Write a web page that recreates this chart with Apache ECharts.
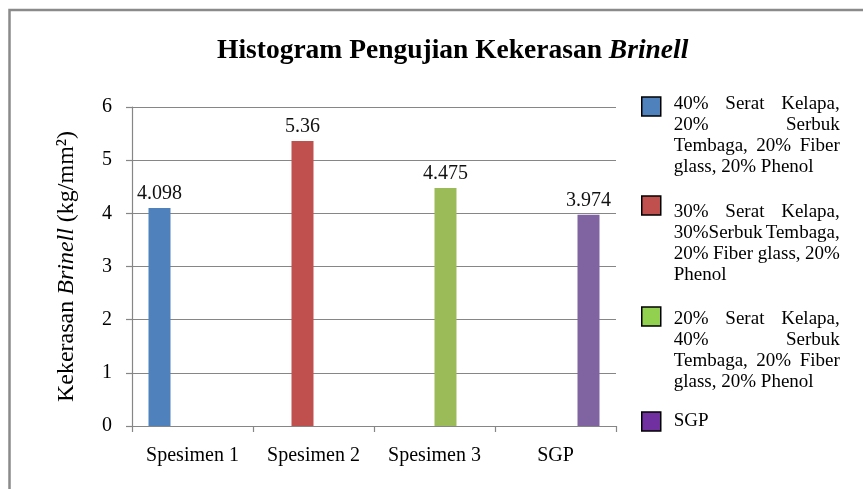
<!DOCTYPE html>
<html>
<head>
<meta charset="utf-8">
<title>Histogram Pengujian Kekerasan Brinell</title>
<script src="https://cdn.jsdelivr.net/npm/echarts@6/dist/echarts.min.js"></script>
<style>
    html, body { margin: 0; padding: 0; background: #fff; }
    #chart { width: 863px; height: 489px; }
</style>
</head>
<body>
<div id="chart"></div>
<script>
var categories = ['Spesimen 1', 'Spesimen 2', 'Spesimen 3', 'SGP'];
var hardness = [4.098, 5.36, 4.475, 3.974];
var yTicks = { min: 0, max: 6, step: 1 };

var seriesNames = [
    '40% Serat Kelapa, 20% Serbuk Tembaga, 20% Fiber glass, 20% Phenol',
    '30% Serat Kelapa, 30%Serbuk Tembaga, 20% Fiber glass, 20% Phenol',
    '20% Serat Kelapa, 40% Serbuk Tembaga, 20% Fiber glass, 20% Phenol',
    'SGP'
];
// legend text broken into lines the way the original wraps (justified)
var legendLines = [
    [['40%', 'Serat', 'Kelapa,'], ['20%', 'Serbuk'], ['Tembaga,', '20%', 'Fiber'], ['glass, 20% Phenol']],
    [['30%', 'Serat', 'Kelapa,'], ['30%Serbuk', 'Tembaga,'], ['20%', 'Fiber glass,', '20%'], ['Phenol']],
    [['20%', 'Serat', 'Kelapa,'], ['40%', 'Serbuk'], ['Tembaga,', '20%', 'Fiber'], ['glass, 20% Phenol']],
    [['SGP']]
];
var barColors = ['#4f81bd', '#c0504d', '#9bbb59', '#8064a2'];
var legendColors = ['#4f81bd', '#c0504d', '#92d050', '#7030a0'];

var serif = '"Liberation Serif", "Times New Roman", serif';
var gray = '#868686';

function justify(lines) {
    return lines.map(function (words) {
        if (words.length === 1) return '{l|' + words[0] + '}';
        var s = '{l|' + words[0] + '}';
        for (var k = 1; k < words.length - 1; k++) s += '{c|' + words[k] + '}';
        return s + '{r|' + words[words.length - 1] + '}';
    }).join('\n');
}

var lgFont = 19, lgLine = 21;
var lgRich = {
    l: { align: 'left', fontSize: lgFont, lineHeight: lgLine, fontFamily: serif, color: '#000' },
    c: { align: 'center', fontSize: lgFont, lineHeight: lgLine, fontFamily: serif, color: '#000' },
    r: { align: 'right', fontSize: lgFont, lineHeight: lgLine, fontFamily: serif, color: '#000' }
};
// one legend per entry so each can sit where the original puts it
var legendTops = [35, 125, 240, 411];
var legendPads = [59, 77, 69, 0];

var legends = seriesNames.map(function (name, i) {
    return {
        orient: 'vertical',
        left: 641,
        top: legendTops[i],
        padding: 0,
        itemWidth: 19,
        itemHeight: 19,
        itemGap: 0,
        selectedMode: false,
        icon: 'rect',
        formatter: function () { return justify(legendLines[i]); },
        data: [{
            name: name,
            itemStyle: { color: legendColors[i], borderColor: '#000', borderWidth: 1.5 },
            textStyle: {
                width: 166,
                padding: [legendPads[i], 0, 0, 8],
                fontSize: lgFont, lineHeight: lgLine, fontFamily: serif, color: '#000',
                rich: lgRich
            }
        }]
    };
});

var series = seriesNames.map(function (name, i) {
    return {
        name: name,
        type: 'bar',
        barWidth: 22,
        barGap: '0%',
        itemStyle: { color: barColors[i] },
        label: {
            show: true,
            position: 'top',
            distance: 4,
            fontSize: 20,
            fontFamily: serif,
            color: '#111'
        },
        data: categories.map(function (c, j) { return j === i ? hardness[j] : '-'; })
    };
});

var myChart = echarts.init(document.getElementById('chart'));
var option = {
    animation: false,
    backgroundColor: '#fff',
    textStyle: { fontFamily: serif },
    title: {
        text: '{b|Histogram Pengujian Kekerasan }{i|Brinell}',
        left: 217,
        top: 37,
        padding: 0,
        textStyle: {
            rich: {
                b: { fontSize: 27.5, fontWeight: 'bold', fontFamily: serif, color: '#000' },
                i: { fontSize: 27.5, fontWeight: 'bold', fontStyle: 'italic', fontFamily: serif, color: '#000' }
            }
        }
    },
    legend: legends,
    graphic: [{
        type: 'rect',
        silent: true,
        shape: { x: 9.5, y: 10, width: 1000, height: 1000 },
        style: { fill: 'none', stroke: '#8a8a8a', lineWidth: 2.5 }
    }],
    grid: { left: 132, right: 247, top: 107, bottom: 63 },
    xAxis: {
        type: 'category',
        data: categories,
        axisLine: { lineStyle: { color: gray, width: 1.2 } },
        axisTick: { show: true, length: 6, lineStyle: { color: gray, width: 1.2 } },
        axisLabel: { margin: 20, fontSize: 20, fontFamily: serif, color: '#000' }
    },
    yAxis: {
        type: 'value',
        min: yTicks.min,
        max: yTicks.max,
        interval: yTicks.step,
        name: 'Kekerasan {i|Brinell} (kg/mm²)',
        nameLocation: 'middle',
        nameRotate: 90,
        nameGap: 53,
        nameTextStyle: {
            fontSize: 24, fontFamily: serif, color: '#000',
            rich: { i: { fontSize: 24, fontStyle: 'italic', fontFamily: serif, color: '#000' } }
        },
        axisLine: { show: true, lineStyle: { color: gray, width: 1.2 } },
        axisTick: { show: true, length: 6, lineStyle: { color: gray, width: 1.2 } },
        axisLabel: { margin: 20, fontSize: 20, fontFamily: serif, color: '#000' },
        splitLine: { lineStyle: { color: gray, width: 1.2 } }
    },
    series: series
};
myChart.setOption(option);
</script>
</body>
</html>
